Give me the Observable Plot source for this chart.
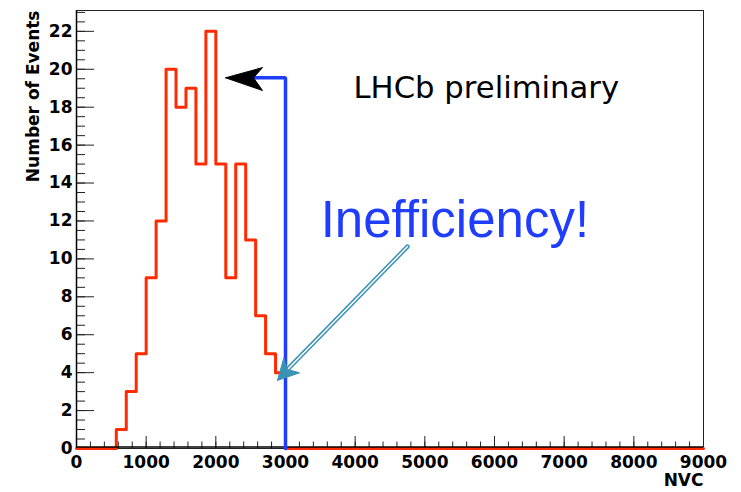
<!DOCTYPE html>
<html>
<head>
<meta charset="utf-8">
<script src="https://cdn.jsdelivr.net/npm/d3@7"></script>
<script src="https://cdn.jsdelivr.net/npm/@observablehq/plot@0.6"></script>
<style>
  html, body { margin: 0; padding: 0; background: #fff; }
  #chart svg { display: block; }
</style>
</head>
<body>
<div id="chart"></div>
<script>
// NVC distribution, 63 equal bins over [0, 9000]
const nvcRange = [0, 9000];
const nBins = 63;
const counts = [
  0, 0, 0, 0, 1, 3, 5, 9, 12, 20, 18, 19, 15, 22, 15, 9,
  15, 11, 7, 5, 4, 0, 0, 0, 0, 0, 0, 0, 0, 0, 0, 0,
  0, 0, 0, 0, 0, 0, 0, 0, 0, 0, 0, 0, 0, 0, 0, 0,
  0, 0, 0, 0, 0, 0, 0, 0, 0, 0, 0, 0, 0, 0, 0
];

// Axis ticks
const xMajorTicks = [0, 1000, 2000, 3000, 4000, 5000, 6000, 7000, 8000, 9000];
const xMinorTicks = d3.range(0, 9001, 200);
const yMajorTicks = [0, 2, 4, 6, 8, 10, 12, 14, 16, 18, 20, 22];
const yMinorTicks = d3.range(0, 23.01, 0.5);

// Texts
const xLabel = "NVC";
const yLabel = "Number of Events";
const title = "LHCb preliminary";
const callout = "Inefficiency!";

// Efficiency cut marker and callout arrows (NVC, events)
const cutNVC = 3000;
const cutLevel = 19.55;
const cutLine = [[cutNVC, 0], [cutNVC, cutLevel], [2541, cutLevel]];
const cutHead = [[2140, cutLevel], [2670, 20.09], [2541, cutLevel], [2670, 18.88], [2140, cutLevel]];
const calloutShaft = [[4751, 10.65], [3029, 4.17]];
const calloutHead = [[2885, 3.59], [2976, 4.78], [3029, 4.17], [3201, 3.99], [2885, 3.59]];

// Step outline: left edge of every bin, closed at the right end of the range
const binWidth = (nvcRange[1] - nvcRange[0]) / nBins;
const steps = counts.map((c, i) => ({x: nvcRange[0] + i * binWidth, y: c}));
steps.push({x: nvcRange[1], y: 0});

const W = 741, H = 492;
const mL = 76, mR = 38, mT = 10, mB = 44;
const innerW = W - mL - mR, innerH = H - mT - mB;

const red = "#ff2a00", blue = "#1f3dff", teal = "#3a92b4";

const chart = Plot.plot({
  width: W,
  height: H,
  marginLeft: mL,
  marginRight: mR,
  marginTop: mT,
  marginBottom: mB,
  style: {fontFamily: "DejaVu Sans", background: "#fff", color: "#000"},
  x: {domain: nvcRange},
  y: {domain: [0, 23.1]},
  marks: [
    Plot.frame({stroke: "#222", strokeWidth: 1}),
    // inward ticks
    Plot.tickY(yMinorTicks, {y: d => d, insetRight: innerW - 9, stroke: "#222"}),
    Plot.tickY(yMajorTicks, {y: d => d, insetRight: innerW - 18, stroke: "#222"}),
    Plot.tickX(xMinorTicks, {x: d => d, insetTop: innerH - 6.5, stroke: "#222"}),
    Plot.tickX(xMajorTicks, {x: d => d, insetTop: innerH - 12, stroke: "#222"}),
    Plot.axisY({ticks: yMajorTicks, tickSize: 0, tickPadding: 4, fontSize: 17, fontWeight: "bold", label: null, tickFormat: d => String(d)}),
    Plot.axisX({ticks: xMajorTicks, tickSize: 0, tickPadding: 7, fontSize: 17, fontWeight: "bold", label: null, tickFormat: d => String(d)}),
    Plot.ruleX([nvcRange[0]], {stroke: "#000", strokeWidth: 1.5}),
    // histogram
    Plot.line(steps, {x: "x", y: "y", curve: "step-after", stroke: red, strokeWidth: 3}),
    Plot.ruleY([0], {stroke: "#000", strokeWidth: 1.3, dy: -1.5}),
    // cut marker
    Plot.line(cutLine, {x: d => d[0], y: d => d[1], stroke: blue, strokeWidth: 3.5, strokeLinejoin: "miter"}),
    Plot.line(cutHead, {x: d => d[0], y: d => d[1], fill: "#000", stroke: "#000", strokeWidth: 1}),
    // callout arrow (double-lined shaft)
    Plot.line(calloutShaft, {x: d => d[0], y: d => d[1], stroke: teal, strokeWidth: 4.5}),
    Plot.line(calloutShaft, {x: d => d[0], y: d => d[1], stroke: "#fff", strokeWidth: 1.5}),
    Plot.line(calloutHead, {x: d => d[0], y: d => d[1], fill: teal, stroke: teal, strokeWidth: 1}),
    // annotations
    Plot.text([title], {x: 3976, y: 18.46, text: d => d, textAnchor: "start", lineAnchor: "bottom", fontSize: 30.7, fontFamily: "DejaVu Sans", fill: "#000"}),
    Plot.text([callout], {x: 3505, y: 11.13, text: d => d, textAnchor: "start", lineAnchor: "bottom", fontSize: 51, fontFamily: "Liberation Sans", fill: blue}),
    // axis titles
    Plot.text([yLabel], {frameAnchor: "top-left", dx: -50, rotate: -90, textAnchor: "end", text: d => d, fontSize: 17, fontWeight: "bold", fill: "#000"}),
    Plot.text([xLabel], {frameAnchor: "bottom-right", dy: 37, textAnchor: "end", text: d => d, fontSize: 17, fontWeight: "bold", fill: "#000"})
  ]
});

document.getElementById("chart").appendChild(chart);
</script>
</body>
</html>
